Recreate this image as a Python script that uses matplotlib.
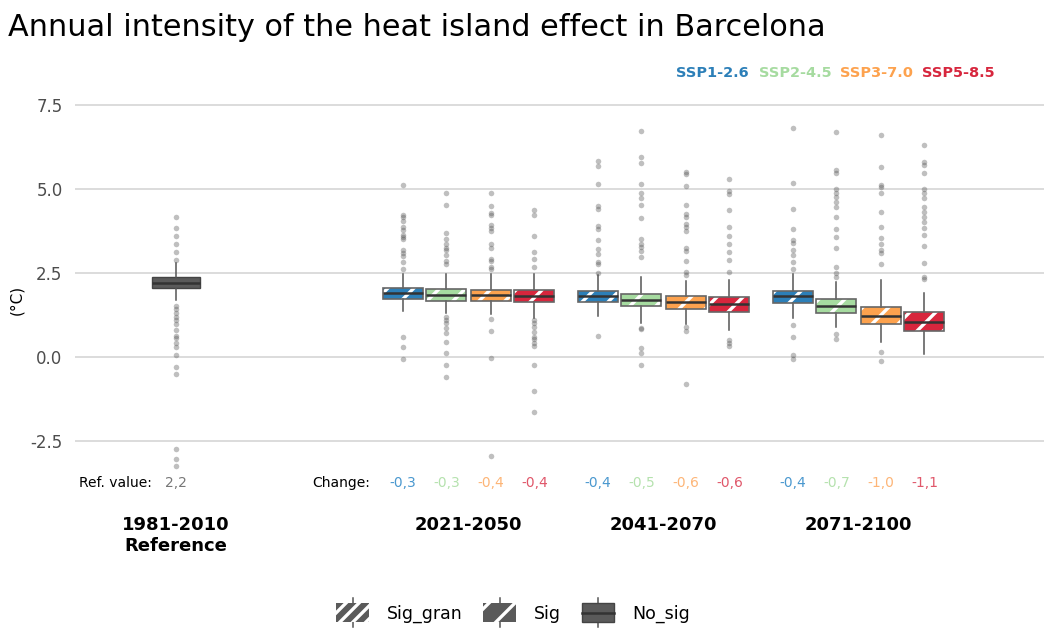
import matplotlib
matplotlib.use("Agg")
import matplotlib.pyplot as plt
import matplotlib.patches as mpatches
from matplotlib.lines import Line2D
from matplotlib.legend_handler import HandlerBase
import numpy as np

# ---------------- data ----------------
periods = ["2021-2050", "2041-2070", "2071-2100"]
scenarios = ["SSP1-2.6", "SSP2-4.5", "SSP3-7.0", "SSP5-8.5"]
ref_label = "1981-2010\nReference"

ref_q1, ref_med, ref_q3 = 2.04, 2.21, 2.37
ref_whislo, ref_whishi = 1.70, 2.80
ref_fliers = [4.17, 3.84, 3.61, 3.36, 3.13, 2.89,
              1.53, 1.42, 1.30, 1.18, 1.10, 0.98, 0.80, 0.62, 0.56, 0.42, 0.30, 0.06,
              -0.29, -0.50, -2.74, -3.04, -3.24]
ref_value = "2,2"

q1 = [[1.72, 1.68, 1.68, 1.63], [1.64, 1.53, 1.44, 1.35], [1.60, 1.32, 0.97, 0.78]]
med = [[1.90, 1.85, 1.84, 1.82], [1.81, 1.71, 1.65, 1.59], [1.82, 1.52, 1.23, 1.05]]
q3 = [[2.06, 2.02, 2.00, 1.98], [1.96, 1.88, 1.82, 1.80], [1.96, 1.72, 1.50, 1.35]]
whislo = [[1.38, 1.32, 1.27, 1.15], [1.22, 1.02, 0.98, 0.80], [1.17, 0.88, 0.44, 0.08]]
whishi = [[2.47, 2.47, 2.47, 2.47], [2.44, 2.39, 2.26, 2.28], [2.46, 2.24, 2.29, 1.90]]

fliers = [
    [  # 2021-2050
        [5.13, 4.23, 4.18, 4.06, 3.88, 3.78, 3.63, 3.58, 3.50, 3.18, 3.09, 3.00, 2.84, 2.62, 0.60, 0.31, -0.07],
        [4.87, 4.51, 3.68, 3.51, 3.35, 3.25, 3.18, 3.04, 2.87, 2.77, 1.20, 1.10, 1.00, 0.87, 0.70, 0.44, 0.13, -0.24, -0.59],
        [4.89, 4.50, 4.28, 4.22, 3.93, 3.83, 3.75, 3.35, 3.25, 2.91, 2.85, 2.67, 2.62, 1.14, 0.76, -0.02, -2.95],
        [4.38, 4.23, 3.60, 3.12, 2.91, 2.67, 1.10, 1.00, 0.90, 0.75, 0.60, 0.55, 0.43, 0.33, -0.24, -1.02, -1.65],
    ],
    [  # 2041-2070
        [5.83, 5.68, 5.14, 4.49, 4.40, 3.90, 3.80, 3.48, 3.20, 3.06, 2.84, 2.77, 2.49, 0.63],
        [6.73, 5.96, 5.76, 5.14, 4.87, 4.72, 4.51, 4.14, 3.52, 3.36, 3.28, 3.15, 2.99, 0.85, 0.82, 0.26, 0.11, -0.24],
        [5.52, 5.45, 5.10, 4.51, 4.25, 4.16, 3.95, 3.86, 3.74, 3.25, 3.16, 2.86, 2.54, 2.43, 0.90, 0.78, -0.81],
        [5.31, 4.95, 4.85, 4.37, 3.86, 3.61, 3.36, 3.12, 2.89, 2.54, 0.51, 0.43, 0.33],
    ],
    [  # 2071-2100
        [6.82, 5.17, 4.40, 3.80, 3.48, 3.38, 3.18, 3.03, 2.84, 2.63, 0.95, 0.60, 0.06, -0.07],
        [6.69, 5.57, 5.47, 4.99, 4.87, 4.75, 4.62, 4.45, 4.16, 3.80, 3.58, 3.24, 2.67, 2.49, 2.39, 0.68, 0.55],
        [6.61, 5.66, 5.12, 5.07, 4.87, 4.32, 3.88, 3.55, 3.35, 3.18, 3.09, 2.77, 0.14, -0.11],
        [6.31, 5.81, 5.71, 5.47, 5.00, 4.87, 4.72, 4.47, 4.32, 4.16, 4.01, 3.83, 3.63, 3.30, 2.79, 2.39, 2.31],
    ],
]

changes = [["-0,3", "-0,3", "-0,4", "-0,4"],
           ["-0,4", "-0,5", "-0,6", "-0,6"],
           ["-0,4", "-0,7", "-1,0", "-1,1"]]

yticks = [-2.5, 0.0, 2.5, 5.0, 7.5]
legend_labels = ["Sig_gran", "Sig", "No_sig"]

# ---------------- style ----------------
box_colors = ["#2C7FB8", "#A6DBA0", "#FDA24E", "#D7263D"]
text_colors = ["#4A98CF", "#B5E2AE", "#FDB577", "#E0576A"]
W, H = 1044, 628
DPI = 78
S = 100 / DPI  # scale so that sizes look as at 100 dpi, while hatch spacing is tighter

plt.rcParams["font.family"] = ["DejaVu Sans"]
plt.rcParams["hatch.linewidth"] = 2.4 * S

fig = plt.figure(figsize=(W / DPI, H / DPI), dpi=DPI)
ax = fig.add_axes([75 / W, 1 - 505 / H, (W - 75) / W, (505 - 95) / H])

group_pos = [1.5, 2.5, 3.5]
offsets = [-0.338, -0.113, 0.113, 0.338]
ref_pos = 0.0

flierprops = dict(marker="o", markersize=4.0 * S, markerfacecolor="#4a4a4a",
                  markeredgecolor="none", alpha=0.35)

# reference box
ref_stats = [dict(q1=ref_q1, med=ref_med, q3=ref_q3, whislo=ref_whislo,
                  whishi=ref_whishi, fliers=ref_fliers)]
ax.bxp(ref_stats, positions=[ref_pos], widths=0.25, patch_artist=True,
       showcaps=False, flierprops=flierprops,
       boxprops=dict(facecolor="#5a5a5a", edgecolor="#444444", linewidth=1 * S),
       whiskerprops=dict(color="#555555", linewidth=1.1 * S),
       medianprops=dict(color="#333333", linewidth=1.8 * S))

for gi, gp in enumerate(group_pos):
    for si in range(len(scenarios)):
        st = [dict(q1=q1[gi][si], med=med[gi][si], q3=q3[gi][si],
                   whislo=whislo[gi][si], whishi=whishi[gi][si],
                   fliers=fliers[gi][si])]
        b = ax.bxp(st, positions=[gp + offsets[si]], widths=0.205,
                   patch_artist=True, showcaps=False, flierprops=flierprops,
                   boxprops=dict(facecolor=box_colors[si], edgecolor="white",
                                 linewidth=0, hatch="/"),
                   whiskerprops=dict(color="#555555", linewidth=1.1 * S),
                   medianprops=dict(color="#333333", linewidth=1.8 * S, zorder=4))
        for bx in b["boxes"]:
            ax.add_patch(mpatches.PathPatch(bx.get_path(), fill=False,
                                            edgecolor="#666666", linewidth=1.2 * S,
                                            zorder=3.5))
        ax.text(gp + offsets[si], -3.75, changes[gi][si], ha="center",
                va="center", fontsize=10 * S, color=text_colors[si])

ax.text(-0.123, -3.75, "Ref. value:", ha="right", va="center", fontsize=10 * S,
        color="black")
ax.text(ref_pos, -3.75, ref_value, ha="center", va="center", fontsize=10 * S,
        color="#777777")
ax.text(0.995, -3.75, "Change:", ha="right", va="center", fontsize=10 * S,
        color="black")

ax.set_xlim((75 - 176) / 195, (W - 176) / 195)
ax.set_ylim((357 - 505) / 33.6, (357 - 95) / 33.6)
ax.set_yticks(yticks)
ax.set_yticklabels([f"{v:.1f}" for v in yticks])
ax.set_xticks([ref_pos] + group_pos)
ax.set_xticklabels([ref_label] + periods, fontweight="bold", fontsize=13 * S)
ax.tick_params(axis="x", length=0, pad=8 * S, colors="black")
ax.tick_params(axis="y", length=0, pad=9 * S, labelsize=12 * S, labelcolor="#4d4d4d")
ax.grid(axis="y", color="#d9d9d9", linewidth=1.3 * S)
ax.grid(axis="x", visible=False)
ax.set_axisbelow(True)
for s in ax.spines.values():
    s.set_visible(False)

fig.text(17 / W, 1 - 300 / H, "(°C)", rotation=90, ha="center", va="center",
         fontsize=11 * S)

fig.text(8 / W, 1 - 28 / H, "Annual intensity of the heat island effect in Barcelona",
         ha="left", va="center", fontsize=21.8 * S)

lx = [676, 759, 840, 922]
for i, sc in enumerate(scenarios):
    fig.text(lx[i] / W, 1 - 73 / H, sc, ha="left", va="center", fontsize=10.4 * S,
             fontweight="bold", color=box_colors[i])


class BoxKey(HandlerBase):
    def __init__(self, hatch, median):
        super().__init__()
        self.hatch = hatch
        self.median = median

    def create_artists(self, legend, orig_handle, xdescent, ydescent, width,
                       height, fontsize, trans):
        x0, y0 = -xdescent, -ydescent
        cx = x0 + width / 2
        arts = [Line2D([cx, cx], [y0 - 0.25 * height, y0 + 1.25 * height],
                       color="#555555", lw=1.1 * S, transform=trans)]
        rect = mpatches.Rectangle((x0, y0), width, height, facecolor="#5a5a5a",
                                  edgecolor="white" if self.hatch else "#444444",
                                  linewidth=0 if self.hatch else 1 * S,
                                  hatch=self.hatch, transform=trans)
        arts.append(rect)
        if self.median:
            arts.append(Line2D([x0, x0 + width], [y0 + height / 2] * 2,
                               color="#333333", lw=1.8 * S, transform=trans))
        return arts


handles = [mpatches.Patch(), mpatches.Patch(), mpatches.Patch()]
handler_map = {handles[0]: BoxKey("//", False), handles[1]: BoxKey("/", False),
               handles[2]: BoxKey(None, True)}
fig.legend(handles, legend_labels, handler_map=handler_map, loc="center",
           bbox_to_anchor=(513 / W, 1 - 613 / H), ncol=3, frameon=False,
           fontsize=12.5 * S, handlelength=1.9, handleheight=1.3,
           columnspacing=1.2, handletextpad=1.0)

fig.savefig("out.png", dpi=DPI)
